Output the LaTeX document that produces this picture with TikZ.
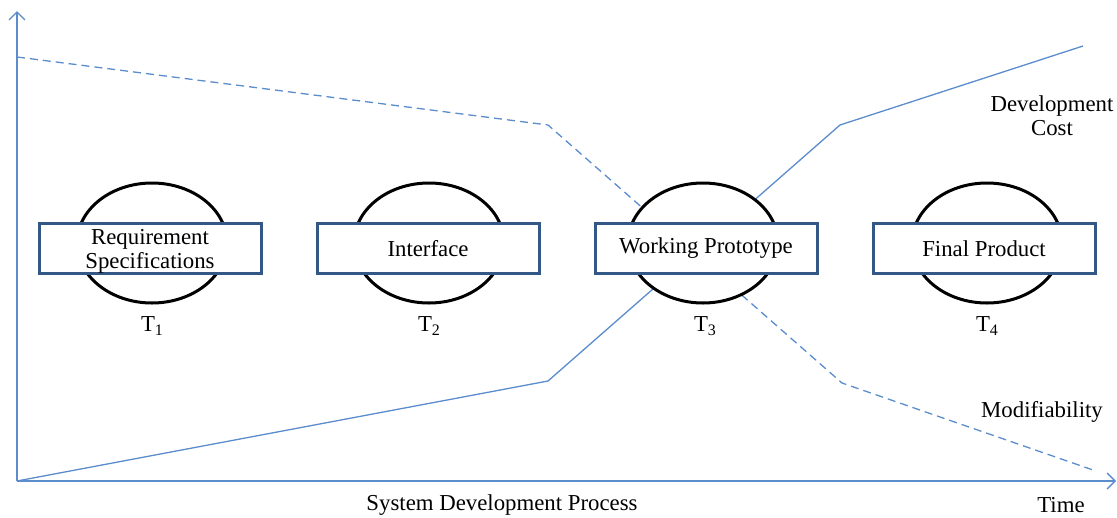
\documentclass[tikz,border=0pt]{standalone}
\usepackage{fontspec}
\setmainfont{Liberation Serif}
\usetikzlibrary{shapes.geometric,arrows.meta}
\definecolor{lineblue}{RGB}{91,140,204}
\definecolor{boxblue}{RGB}{52,88,134}
\begin{document}
\begin{tikzpicture}[x=1pt,y=-1pt,
  axisline/.style={draw=lineblue,line width=1.4pt,-{Straight Barb[length=8pt,width=16pt,line width=1.4pt]}},
  costline/.style={draw=lineblue,line width=1.3pt},
  modline/.style={draw=lineblue,line width=1.3pt,dash pattern=on 8pt off 5pt},
  ellnode/.style={ellipse,draw=black,line width=3pt,fill=white,minimum width=150pt,minimum height=120pt,inner sep=0pt},
  boxnode/.style={rectangle,draw=boxblue,line width=3pt,fill=white,minimum width=222pt,minimum height=50pt,inner sep=0pt,align=center,font=\fontsize{22.8}{24}\selectfont},
  lbl/.style={font=\fontsize{22.8}{24}\selectfont,inner sep=0pt,align=center},
  tlbl/.style={font=\fontsize{22.8}{24}\selectfont,inner sep=0pt}
]
\useasboundingbox (0,0) rectangle (1117,517);
% axes
\coordinate (O) at (17,481);
\coordinate (ytop) at (17,11);
\coordinate (xend) at (1116,481);
\draw[axisline] (O) -- (ytop);
\draw[axisline] (O) -- (xend);
% curves
\coordinate (c1) at (548,381);
\coordinate (c2) at (840,125);
\coordinate (c3) at (1083,46);
\draw[costline] (O) -- (c1) -- (c2) -- (c3);
\coordinate (m0) at (17,57);
\coordinate (m1) at (548,125);
\coordinate (m2) at (842,383);
\coordinate (m3) at (1093,470);
\draw[modline] (m0) -- (m1) -- (m2) -- (m3);
% ellipses
\node[ellnode] (e1) at (152,243) {};
\node[ellnode] (e2) at (429,243) {};
\node[ellnode] (e3) at (703,243) {};
\node[ellnode] (e4) at (987,243) {};
% boxes
\node[boxnode] (b1) at (150,248.5) {};
\node[lbl] (b1t) at (150,251) {Requirement\\Specifications};
\node[boxnode] (b2) at (428,248.5) {Interface};
\node[boxnode] (b3) at (706,248.5) {Working Prototype};
\node[boxnode] (b4) at (984,248.5) {Final Product};
% T labels
\node[tlbl] (t1) at (152,326) {T\raisebox{-0.35ex}{\fontsize{16}{16}\selectfont 1}};
\node[tlbl] (t2) at (429,326) {T\raisebox{-0.35ex}{\fontsize{16}{16}\selectfont 2}};
\node[tlbl] (t3) at (705,326) {T\raisebox{-0.35ex}{\fontsize{16}{16}\selectfont 3}};
\node[tlbl] (t4) at (987,326) {T\raisebox{-0.35ex}{\fontsize{16}{16}\selectfont 4}};
% side labels
\node[lbl] (dc) at (1052,116) {Development\\Cost};
\node[lbl] (mod) at (1042,412) {Modifiability};
\node[lbl] (sdp) at (502,505) {System Development Process};
\node[lbl] (time) at (1061,505) {Time};
\end{tikzpicture}
\end{document}
